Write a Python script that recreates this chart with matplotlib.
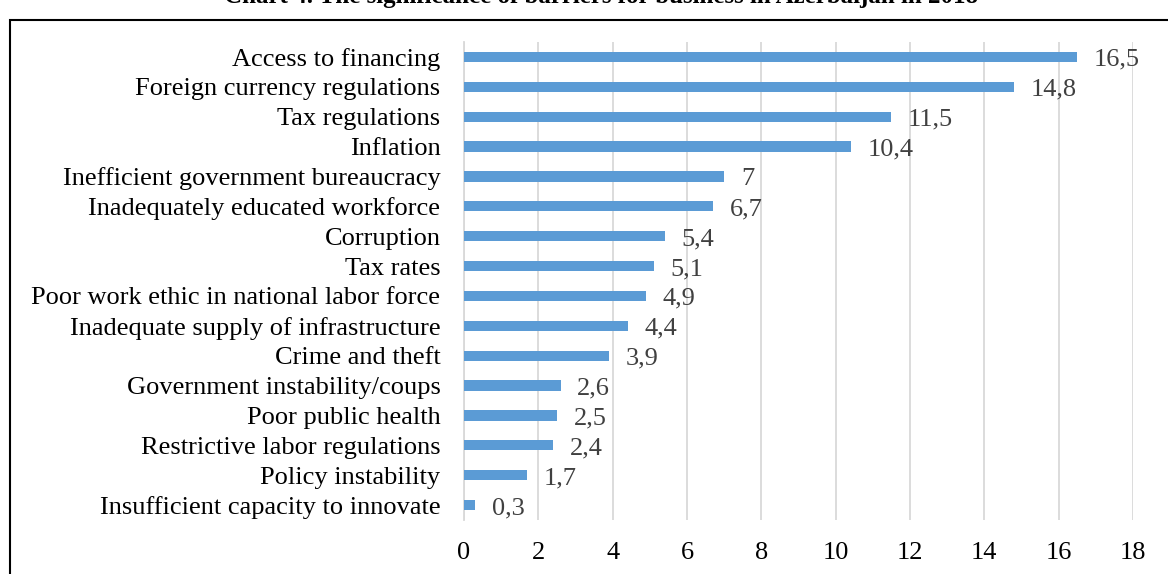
import matplotlib
matplotlib.use("Agg")
import matplotlib.pyplot as plt
from matplotlib.patches import Rectangle

barriers = ["Access to financing", "Foreign currency regulations", "Tax regulations",
            "Inflation", "Inefficient government bureaucracy", "Inadequately educated workforce",
            "Corruption", "Tax rates", "Poor work ethic in national labor force",
            "Inadequate supply of infrastructure", "Crime and theft",
            "Government instability/coups", "Poor public health",
            "Restrictive labor regulations", "Policy instability",
            "Insufficient capacity to innovate"]
values = [16.5, 14.8, 11.5, 10.4, 7, 6.7, 5.4, 5.1, 4.9, 4.4, 3.9, 2.6, 2.5, 2.4, 1.7, 0.3]
xticks = [0, 2, 4, 6, 8, 10, 12, 14, 16, 18]

plt.rcParams['font.family'] = ['Liberation Serif', 'DejaVu Serif']

fig = plt.figure(figsize=(11.68, 5.74), dpi=100)
ax = fig.add_axes([464/1168, 1 - 520/574, (1133-464)/1168, (520-42)/574])

ypos = list(range(len(barriers)))[::-1]
ax.barh(ypos, values, height=0.34, color="#5B9BD5", zorder=3)
for y, v in zip(ypos, values):
    lab = ("%g" % v).replace(".", ",")
    ax.text(v + 0.45, y - 0.1, lab, va="center", ha="left", fontsize=19, color="#404040")

ax.set_ylim(-0.5, 15.5)
ax.set_xlim(0, 18)
ax.set_xticks(xticks)
ax.set_yticks(ypos)
ax.set_yticklabels(barriers, fontsize=19)
ax.tick_params(axis="x", length=0, pad=16, labelsize=19)
ax.tick_params(axis="y", length=0, pad=17)
ax.grid(axis="x", color="#D9D9D9", linewidth=1.3, zorder=0)
for s in ["top", "right", "bottom"]:
    ax.spines[s].set_visible(False)
ax.spines["left"].set_color("#D9D9D9")
ax.spines["left"].set_linewidth(1.3)

fig.text(0.515, 1 - 3/574, "Chart 4. The significance of barriers for business in Azerbaijan in 2018",
         ha="center", va="baseline", fontsize=18, fontweight="bold")
fig.patches.append(Rectangle((10/1168, -0.1), 1.2, 1 - 20/574 + 0.1, transform=fig.transFigure,
                             fill=False, edgecolor="black", linewidth=1.5))

fig.savefig("out.png")
